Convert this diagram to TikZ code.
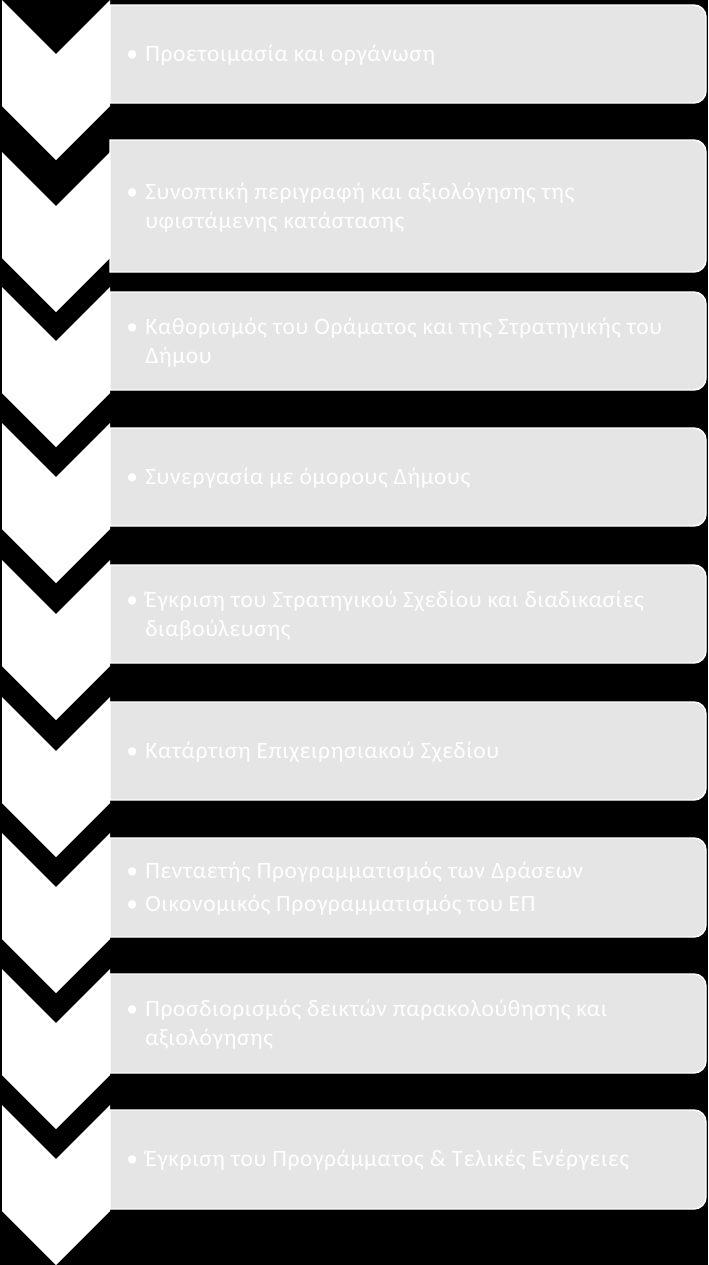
\documentclass[tikz,border=0pt]{standalone}
\usepackage{fontspec}
\setmainfont{Carlito}[LetterSpace=2.8]
\usepackage{tikz}
\usepackage{xcolor}

\definecolor{boxgray}{HTML}{E5E5E5}
\newcommand{\stepbul}{\makebox[14.25pt][l]{\textbullet}}
\newcommand{\stepind}{\hspace*{14.25pt}}

\begin{document}
\begin{tikzpicture}[x=0.75pt,y=-0.75pt,
    chevron/.style={fill=white},
    stepbox/.style={fill=boxgray, draw=white, line width=1.1pt},
    steptext/.style={anchor=west, inner sep=0pt, text=white, align=left, font=\fontsize{17.6}{21.7}\selectfont}]
    \fill[black] (0,0) rectangle (708,1265);

    % boxes
    \filldraw[stepbox] (110,5) -- (694,5) arc (90:0:9pt) -- (706,91) arc (0:-90:9pt) -- (110,103) -- cycle;
    \filldraw[stepbox] (110,140) -- (694,140) arc (90:0:9pt) -- (706,260) arc (0:-90:9pt) -- (110,272) -- cycle;
    \filldraw[stepbox] (110,292) -- (694,292) arc (90:0:9pt) -- (706,378) arc (0:-90:9pt) -- (110,390) -- cycle;
    \filldraw[stepbox] (110,428) -- (694,428) arc (90:0:9pt) -- (706,514) arc (0:-90:9pt) -- (110,526) -- cycle;
    \filldraw[stepbox] (110,565) -- (694,565) arc (90:0:9pt) -- (706,651) arc (0:-90:9pt) -- (110,663) -- cycle;
    \filldraw[stepbox] (110,702) -- (694,702) arc (90:0:9pt) -- (706,788) arc (0:-90:9pt) -- (110,800) -- cycle;
    \filldraw[stepbox] (110,838) -- (694,838) arc (90:0:9pt) -- (706,925) arc (0:-90:9pt) -- (110,937) -- cycle;
    \filldraw[stepbox] (110,974) -- (694,974) arc (90:0:9pt) -- (706,1061) arc (0:-90:9pt) -- (110,1073) -- cycle;
    \filldraw[stepbox] (110,1110) -- (694,1110) arc (90:0:9pt) -- (706,1197) arc (0:-90:9pt) -- (110,1209) -- cycle;

    % chevrons
    \fill[chevron] (2,0) -- (56,54) -- (110,0) -- (110,106) -- (56,160) -- (2,106) -- cycle;
    \fill[chevron] (2,152) -- (56,206) -- (110,152) -- (110,258) -- (56,312) -- (2,258) -- cycle;
    \fill[chevron] (2,287) -- (56,341) -- (110,287) -- (110,393) -- (56,447) -- (2,393) -- cycle;
    \fill[chevron] (2,423) -- (56,477) -- (110,423) -- (110,529) -- (56,583) -- (2,529) -- cycle;
    \fill[chevron] (2,560) -- (56,614) -- (110,560) -- (110,666) -- (56,720) -- (2,666) -- cycle;
    \fill[chevron] (2,697) -- (56,751) -- (110,697) -- (110,803) -- (56,857) -- (2,803) -- cycle;
    \fill[chevron] (2,833) -- (56,887) -- (110,833) -- (110,939) -- (56,993) -- (2,939) -- cycle;
    \fill[chevron] (2,969) -- (56,1023) -- (110,969) -- (110,1075) -- (56,1129) -- (2,1075) -- cycle;
    \fill[chevron] (2,1105) -- (56,1159) -- (110,1105) -- (110,1211) -- (56,1265) -- (2,1211) -- cycle;

    % texts
    \node[steptext] (s1) at (126,55.5) {\stepbul Προετοιμασία και οργάνωση};
    \node[steptext] (s2) at (126,207.5) {\stepbul Συνοπτική περιγραφή και αξιολόγησης της\\\stepind υφιστάμενης κατάστασης};
    \node[steptext] (s3) at (126,342.5) {\stepbul Καθορισμός του Οράματος και της Στρατηγικής του\\\stepind Δήμου};
    \node[steptext] (s4) at (126,478.5) {\stepbul Συνεργασία με όμορους Δήμους};
    \node[steptext] (s5) at (126,615.5) {\stepbul Έγκριση του Στρατηγικού Σχεδίου και διαδικασίες\\\stepind διαβούλευσης};
    \node[steptext] (s6) at (126,752.5) {\stepbul Κατάρτιση Επιχειρησιακού Σχεδίου};
    \node[steptext] (s7) at (126,888.5) {\stepbul Πενταετής Προγραμματισμός των Δράσεων\\[3pt]\stepbul Οικονομικός Προγραμματισμός του ΕΠ};
    \node[steptext] (s8) at (126,1024.5) {\stepbul Προσδιορισμός δεικτών παρακολούθησης και\\\stepind αξιολόγησης};
    \node[steptext] (s9) at (126,1160.5) {\stepbul Έγκριση του Προγράμματος \& Τελικές Ενέργειες};
\end{tikzpicture}
\end{document}
